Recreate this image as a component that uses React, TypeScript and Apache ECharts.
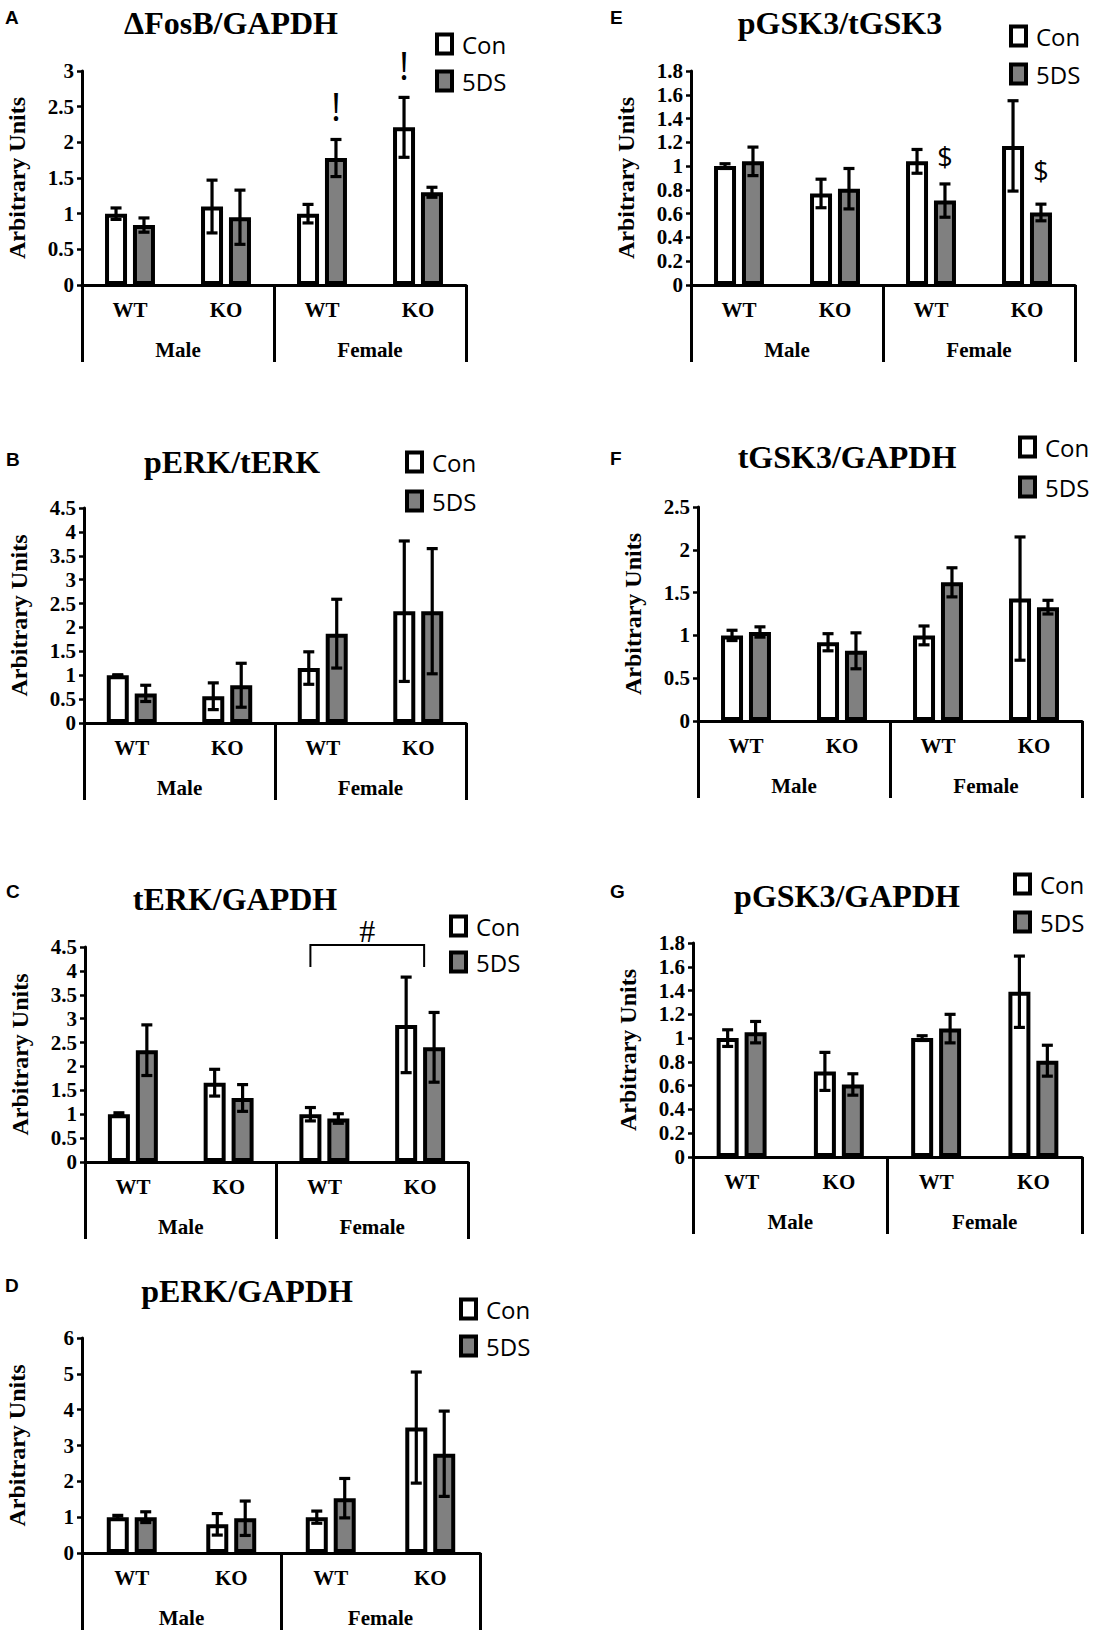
import React, { useEffect, useRef } from "react";
import * as echarts from "echarts";

// ---------- data ----------
const genotypes = ["WT", "KO", "WT", "KO"];
const sexes = ["Male", "Female"];
const legendNames = ["Con", "5DS"];
const yAxisName = "Arbitrary Units";

const titles = ["ΔFosB/GAPDH", "pERK/tERK", "tERK/GAPDH", "pERK/GAPDH", "pGSK3/tGSK3", "tGSK3/GAPDH", "pGSK3/GAPDH"];
const letters = ["A", "B", "C", "D", "E", "F", "G"];
const yMax = [3, 4.5, 4.5, 6, 1.8, 2.5, 1.8];
const yStep = [0.5, 0.5, 0.5, 1, 0.2, 0.5, 0.2];

// A  ΔFosB/GAPDH
const fosbCon = [1.0, 1.1, 1.0, 2.21];
const fosbConErr = [0.08, 0.37, 0.13, 0.42];
const fosbDs = [0.84, 0.95, 1.78, 1.3];
const fosbDsErr = [0.1, 0.38, 0.26, 0.07];
// B  pERK/tERK
const perkTerkCon = [1.0, 0.56, 1.15, 2.34];
const perkTerkConErr = [0.01, 0.28, 0.34, 1.47];
const perkTerkDs = [0.62, 0.79, 1.87, 2.34];
const perkTerkDsErr = [0.17, 0.46, 0.72, 1.31];
// C  tERK/GAPDH
const terkCon = [1.0, 1.66, 1.0, 2.87];
const terkConErr = [0.03, 0.28, 0.14, 1.0];
const terkDs = [2.34, 1.34, 0.91, 2.4];
const terkDsErr = [0.53, 0.28, 0.1, 0.73];
// D  pERK/GAPDH
const perkCon = [1.0, 0.8, 1.0, 3.5];
const perkConErr = [0.05, 0.3, 0.17, 1.55];
const perkDs = [1.0, 0.97, 1.53, 2.77];
const perkDsErr = [0.15, 0.48, 0.55, 1.19];
// E  pGSK3/tGSK3
const pgTgCon = [1.0, 0.77, 1.04, 1.17];
const pgTgConErr = [0.02, 0.12, 0.1, 0.38];
const pgTgDs = [1.04, 0.81, 0.71, 0.61];
const pgTgDsErr = [0.12, 0.17, 0.14, 0.07];
// F  tGSK3/GAPDH
const tgskCon = [1.0, 0.92, 1.0, 1.43];
const tgskConErr = [0.06, 0.1, 0.11, 0.72];
const tgskDs = [1.04, 0.82, 1.62, 1.33];
const tgskDsErr = [0.06, 0.21, 0.17, 0.08];
// G  pGSK3/GAPDH
const pgskCon = [1.0, 0.72, 1.0, 1.39];
const pgskConErr = [0.07, 0.16, 0.02, 0.3];
const pgskDs = [1.05, 0.61, 1.08, 0.81];
const pgskDsErr = [0.09, 0.09, 0.12, 0.13];

// significance marks: [category, side(-1 Con / +1 5DS), y value]
const fosbMarkPos = [[2, 1, 2.51], [3, -1, 3.08]];
const fosbMarkText = ["!", "!"];
const pgTgMarkPos = [[2, 1, 1.077], [3, 1, 0.967]];
const pgTgMarkText = ["$", "$"];
// bracket in C: [fromCat, toCat, barY, dropY, textY]
const terkBracket = [[2, 3, 4.54, 4.08, 4.83]];
const terkBracketText = "#";

const seriesSets = [
  [fosbCon, fosbConErr, fosbDs, fosbDsErr],
  [perkTerkCon, perkTerkConErr, perkTerkDs, perkTerkDsErr],
  [terkCon, terkConErr, terkDs, terkDsErr],
  [perkCon, perkConErr, perkDs, perkDsErr],
  [pgTgCon, pgTgConErr, pgTgDs, pgTgDsErr],
  [tgskCon, tgskConErr, tgskDs, tgskDsErr],
  [pgskCon, pgskConErr, pgskDs, pgskDsErr],
];

// ---------- layout ----------
const layouts = [
  { left: 82, right: 466, top: 71, bottom: 285, tx: 231, ty: 23, lx: 5, ly: 17, legX: 433, legY: 30, pitch: 32 },
  { left: 84, right: 466, top: 508, bottom: 723, tx: 232, ty: 462, lx: 6, ly: 459, legX: 403, legY: 448, pitch: 34 },
  { left: 85, right: 468, top: 947, bottom: 1162, tx: 235, ty: 899, lx: 6, ly: 891, legX: 447, legY: 912, pitch: 31 },
  { left: 82, right: 480, top: 1338, bottom: 1553, tx: 247, ty: 1291, lx: 5, ly: 1285, legX: 457, legY: 1295, pitch: 32 },
  { left: 691, right: 1075, top: 71, bottom: 285, tx: 840, ty: 23, lx: 610, ly: 17, legX: 1007, legY: 22, pitch: 33 },
  { left: 698, right: 1082, top: 507, bottom: 721, tx: 847, ty: 457, lx: 610, ly: 458, legX: 1016, legY: 433, pitch: 35 },
  { left: 693, right: 1082, top: 943, bottom: 1157, tx: 847, ty: 896, lx: 610, ly: 891, legX: 1011, legY: 870, pitch: 33 },
];

const SERIF = "Liberation Serif";
const SANS = "Open Sans";
const BAR_W = 22;
const BAR_GAP = 0.27;
const BAR_OFF = (BAR_W * (1 + BAR_GAP)) / 2;

function errorRender(sign: number) {
  return (params: any, api: any) => {
    const cat = api.value(0);
    const v = api.value(1);
    const e = api.value(2);
    const hi = api.coord([cat, v + e]);
    const lo = api.coord([cat, v - e]);
    const x = hi[0] + sign * BAR_OFF;
    const cap = 5.5;
    const st = { stroke: "#000", lineWidth: 3.2 };
    return {
      type: "group",
      children: [
        { type: "line", shape: { x1: x, y1: hi[1], x2: x, y2: lo[1] }, style: st },
        { type: "line", shape: { x1: x - cap, y1: hi[1], x2: x + cap, y2: hi[1] }, style: st },
        { type: "line", shape: { x1: x - cap, y1: lo[1], x2: x + cap, y2: lo[1] }, style: st },
      ],
    };
  };
}

function markRender(texts: string[], fontSize: number, family: string) {
  return (params: any, api: any) => {
    const p = api.coord([api.value(0), api.value(2)]);
    const side = api.value(1);
    return {
      type: "text",
      x: p[0] + side * BAR_OFF,
      y: p[1],
      style: {
        text: texts[params.dataIndex],
        fontSize,
        fontFamily: family,
        fill: "#000",
        align: "center",
        verticalAlign: "middle",
        textAlign: "center",
        textVerticalAlign: "middle",
      },
    };
  };
}

function bracketRender(params: any, api: any) {
  const a = api.coord([api.value(0), api.value(2)]);
  const b = api.coord([api.value(1), api.value(2)]);
  const d = api.coord([api.value(0), api.value(3)]);
  const t = api.coord([api.value(0), api.value(4)]);
  const x1 = a[0] - BAR_OFF;
  const x2 = b[0] + 4;
  return {
    type: "group",
    children: [
      {
        type: "polyline",
        shape: { points: [[x1, d[1]], [x1, a[1]], [x2, a[1]], [x2, d[1]]] },
        style: { stroke: "#000", lineWidth: 2, fill: "none" },
      },
      {
        type: "text",
        x: (x1 + x2) / 2,
        y: t[1],
        style: {
          text: terkBracketText,
          fontSize: 32,
          fontFamily: SERIF,
          fill: "#000",
          align: "center",
          verticalAlign: "middle",
          textAlign: "center",
          textVerticalAlign: "middle",
        },
      },
    ],
  };
}

function buildOption() {
  const grid: any[] = [];
  const xAxis: any[] = [];
  const yAxis: any[] = [];
  const series: any[] = [];
  const legend: any[] = [];
  const graphic: any[] = [];

  layouts.forEach((L, i) => {
    grid.push({ left: L.left, top: L.top, width: L.right - L.left, height: L.bottom - L.top, containLabel: false });
    xAxis.push({
      type: "category",
      gridIndex: i,
      data: genotypes,
      axisLine: { show: true, lineStyle: { color: "#000", width: 3 } },
      axisTick: { show: false },
      axisLabel: { color: "#000", fontFamily: SERIF, fontWeight: "bold", fontSize: 21, margin: 14, interval: 0 },
      splitLine: { show: false },
    });
    xAxis.push({
      type: "category",
      gridIndex: i,
      position: "bottom",
      data: sexes,
      axisLine: { show: false },
      axisTick: { show: true, length: 77, interval: 0, lineStyle: { color: "#000", width: 3 } },
      axisLabel: { color: "#000", fontFamily: SERIF, fontWeight: "bold", fontSize: 21, margin: 54, interval: 0 },
      splitLine: { show: false },
    });
    yAxis.push({
      type: "value",
      gridIndex: i,
      min: 0,
      max: yMax[i],
      interval: yStep[i],
      name: yAxisName,
      nameLocation: "middle",
      nameGap: 53,
      nameTextStyle: { color: "#000", fontFamily: SERIF, fontWeight: "bold", fontSize: 24 },
      axisLine: { show: true, lineStyle: { color: "#000", width: 3 } },
      axisTick: { show: true, length: 5, lineStyle: { color: "#000", width: 2.5 } },
      axisLabel: { color: "#000", fontFamily: SERIF, fontWeight: "bold", fontSize: 21, margin: 8 },
      splitLine: { show: false },
    });

    const [con, conErr, ds, dsErr] = seriesSets[i];
    series.push({
      type: "bar",
      name: legendNames[0],
      xAxisIndex: 2 * i,
      yAxisIndex: i,
      data: con,
      barWidth: BAR_W,
      barGap: BAR_GAP * 100 + "%",
      itemStyle: { color: "#ffffff", borderColor: "#000", borderWidth: 4 },
      z: 2,
    });
    series.push({
      type: "bar",
      name: legendNames[1],
      xAxisIndex: 2 * i,
      yAxisIndex: i,
      data: ds,
      barWidth: BAR_W,
      barGap: BAR_GAP * 100 + "%",
      itemStyle: { color: "#808080", borderColor: "#000", borderWidth: 4 },
      z: 2,
    });
    series.push({
      type: "custom",
      xAxisIndex: 2 * i,
      yAxisIndex: i,
      data: con.map((v, k) => [k, v, conErr[k]]),
      encode: { x: 0, y: 1 },
      renderItem: errorRender(-1),
      z: 3,
    });
    series.push({
      type: "custom",
      xAxisIndex: 2 * i,
      yAxisIndex: i,
      data: ds.map((v, k) => [k, v, dsErr[k]]),
      encode: { x: 0, y: 1 },
      renderItem: errorRender(1),
      z: 3,
    });

    legend.push({
      data: legendNames,
      orient: "vertical",
      left: L.legX + 2,
      top: L.legY + 2,
      padding: 0,
      itemWidth: 15,
      itemHeight: 19,
      itemGap: L.pitch - 19,
      icon: "rect",
      selectedMode: false,
      itemStyle: { borderColor: "#000", borderWidth: 4 },
      textStyle: { fontFamily: SANS, fontSize: 24, color: "#000", lineHeight: 19, padding: [0, 0, 0, 5] },
    });

    graphic.push({
      type: "text",
      x: L.tx,
      y: L.ty,
      style: {
        text: titles[i],
        fontFamily: SERIF,
        fontWeight: "bold",
        fontSize: 32,
        fill: "#000",
        align: "center",
        verticalAlign: "middle",
        textAlign: "center",
        textVerticalAlign: "middle",
      },
    });
    graphic.push({
      type: "text",
      x: L.lx,
      y: L.ly,
      style: {
        text: letters[i],
        fontFamily: "Liberation Sans",
        fontWeight: "bold",
        fontSize: 19,
        fill: "#000",
        align: "left",
        verticalAlign: "middle",
        textAlign: "left",
        textVerticalAlign: "middle",
      },
    });
  });

  // significance marks
  series.push({
    type: "custom",
    xAxisIndex: 0,
    yAxisIndex: 0,
    data: fosbMarkPos,
    encode: { x: 0, y: 2 },
    renderItem: markRender(fosbMarkText, 38, SANS),
    z: 4,
  });
  series.push({
    type: "custom",
    xAxisIndex: 8,
    yAxisIndex: 4,
    data: pgTgMarkPos,
    encode: { x: 0, y: 2 },
    renderItem: markRender(pgTgMarkText, 27, SANS),
    z: 4,
  });
  series.push({
    type: "custom",
    xAxisIndex: 4,
    yAxisIndex: 2,
    data: terkBracket,
    encode: { x: [0, 1], y: [2, 3, 4] },
    renderItem: bracketRender,
    z: 4,
  });

  return {
    animation: false,
    backgroundColor: "#ffffff",
    grid,
    xAxis,
    yAxis,
    series,
    legend,
    graphic,
  };
}

export default function App() {
  const ref = useRef<HTMLDivElement>(null);
  useEffect(() => {
    if (!ref.current) return;
    const chart = echarts.init(ref.current, undefined, { renderer: "svg" });
    chart.setOption(buildOption() as any);
    return () => chart.dispose();
  }, []);
  return (
    <div
      ref={ref}
      style={{ position: "absolute", left: 0, top: 0, width: 1097, height: 1637, background: "#fff" }}
    />
  );
}
